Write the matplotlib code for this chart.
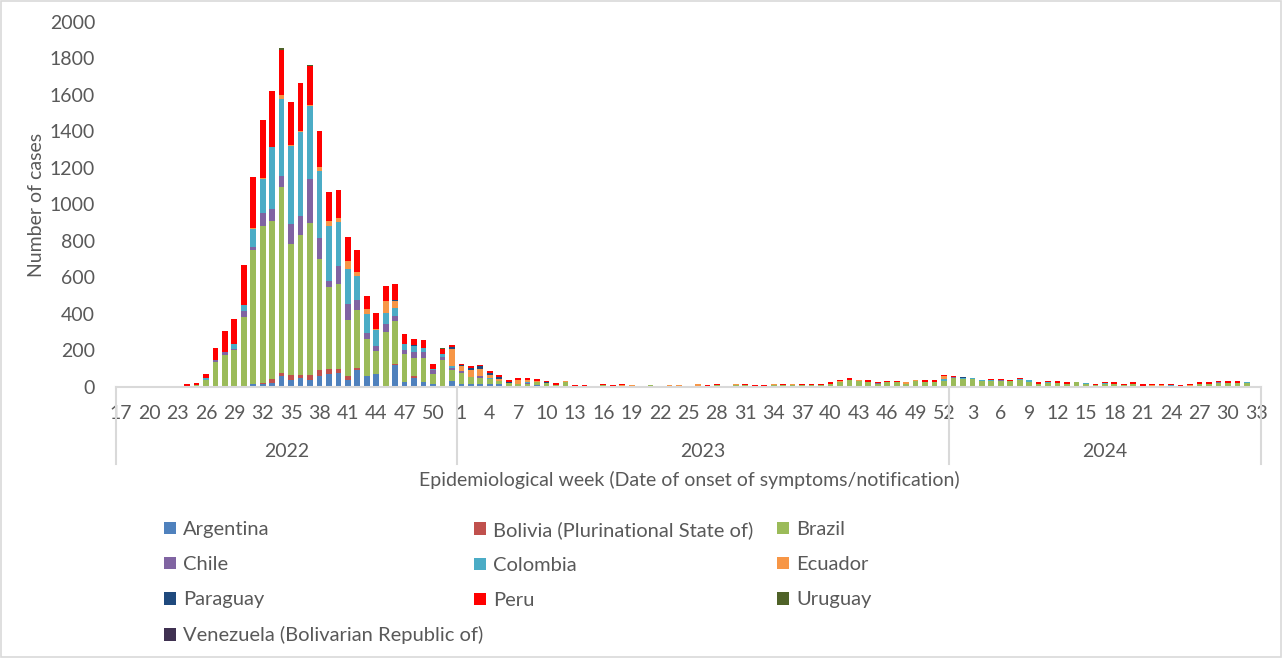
import numpy as np
import matplotlib.pyplot as plt
from matplotlib.patches import Patch, Rectangle

plt.rcParams['font.family'] = ['Lato', 'DejaVu Sans']

# epidemiological weeks: 2022 wk17-52, 2023 wk1-52, 2024 wk1-33
weeks_2022 = list(range(17, 53))
weeks_2023 = list(range(1, 53))
weeks_2024 = list(range(1, 34))
weeks = weeks_2022 + weeks_2023 + weeks_2024
years = ['2022', '2023', '2024']

# cases per week, one line per year
argentina = [
    0, 0, 0, 0, 0, 0, 0, 0, 0, 0, 0, 5, 0, 0, 11, 15, 20, 57, 33, 47, 38, 57, 66, 75, 38, 89, 55, 66, 0, 117, 27, 44, 27, 13, 0, 29,
    11, 16, 13, 13, 13, 0, 0, 5, 7, 0, 0, 0, 0, 0, 0, 0, 0, 0, 0, 0, 5, 0, 0, 0, 0, 0, 0, 0, 0, 0, 0, 0, 0, 0, 0, 0, 0, 0, 0, 0, 0, 0, 0, 0, 0, 0, 0, 0, 0, 0, 0, 0,
    0, 0, 0, 0, 0, 0, 0, 0, 0, 0, 0, 0, 0, 0, 0, 0, 0, 0, 0, 0, 0, 0, 0, 0, 0, 0, 0, 0, 0, 0, 0, 0, 0,
]
bolivia = [
    0, 0, 0, 0, 0, 0, 0, 0, 0, 0, 0, 0, 0, 0, 0, 5, 22, 15, 29, 15, 24, 33, 31, 22, 18, 11, 5, 5, 0, 5, 0, 11, 0, 0, 0, 0,
    0, 0, 0, 0, 0, 0, 0, 0, 0, 0, 0, 5, 0, 0, 0, 0, 0, 0, 0, 0, 0, 0, 0, 0, 0, 0, 0, 0, 0, 0, 0, 0, 0, 0, 0, 0, 0, 0, 0, 0, 0, 0, 0, 0, 0, 0, 0, 0, 0, 0, 0, 0,
    0, 0, 0, 0, 0, 0, 0, 0, 0, 0, 0, 0, 0, 0, 0, 0, 0, 0, 0, 0, 0, 0, 0, 0, 0, 0, 0, 0, 0, 0, 0, 0, 0,
]
brazil = [
    0, 0, 0, 0, 0, 0, 0, 0, 8, 38, 133, 170, 203, 382, 736, 858, 864, 1021, 720, 769, 834, 610, 447, 467, 309, 321, 200, 126, 297, 235, 152, 100, 132, 56, 148, 62,
    62, 35, 33, 27, 15, 18, 15, 10, 15, 18, 9, 18, 0, 0, 0, 9, 0, 4, 0, 0, 4, 0, 0, 0, 0, 0, 0, 10, 4, 9, 9, 0, 0, 9, 9, 9, 10, 10, 10, 13, 27, 33, 30, 27, 16, 27, 22, 15, 30, 25, 27, 28,
    47, 41, 41, 30, 31, 30, 29, 35, 26, 15, 18, 17, 13, 22, 13, 9, 13, 13, 9, 13, 0, 0, 5, 0, 0, 0, 13, 13, 18, 20, 20, 17, 0,
]
chile = [
    0, 0, 0, 0, 0, 0, 0, 0, 0, 0, 15, 13, 5, 31, 16, 73, 68, 62, 111, 106, 241, 113, 37, 95, 88, 55, 36, 27, 46, 32, 20, 37, 29, 20, 14, 8,
    13, 0, 11, 0, 0, 0, 0, 5, 0, 0, 0, 0, 0, 0, 0, 0, 0, 0, 0, 0, 0, 0, 0, 0, 0, 0, 0, 0, 0, 0, 0, 0, 0, 0, 0, 0, 0, 0, 0, 0, 0, 5, 0, 0, 5, 0, 0, 0, 0, 0, 0, 0,
    7, 0, 0, 0, 0, 5, 0, 0, 0, 0, 0, 0, 0, 0, 0, 0, 0, 0, 0, 0, 0, 0, 0, 0, 0, 0, 0, 0, 4, 0, 0, 0, 0,
]
colombia = [
    0, 0, 0, 0, 0, 0, 0, 0, 0, 9, 0, 0, 27, 33, 102, 188, 340, 422, 424, 458, 400, 367, 301, 241, 194, 133, 100, 88, 63, 43, 35, 28, 24, 7, 17, 12,
    0, 0, 0, 5, 0, 0, 0, 5, 0, 0, 0, 0, 0, 0, 0, 0, 0, 0, 4, 0, 0, 0, 0, 0, 0, 0, 0, 0, 0, 0, 0, 4, 0, 0, 0, 0, 0, 0, 0, 0, 0, 0, 0, 0, 0, 0, 0, 0, 0, 0, 0, 14,
    0, 3, 3, 5, 6, 0, 0, 5, 7, 0, 5, 0, 0, 3, 7, 0, 5, 0, 0, 0, 0, 0, 0, 7, 0, 0, 0, 0, 0, 0, 0, 7, 0,
]
ecuador = [
    0, 0, 0, 0, 0, 0, 0, 0, 0, 0, 0, 0, 0, 0, 4, 7, 0, 24, 9, 7, 7, 24, 26, 24, 40, 22, 27, 4, 65, 37, 0, 0, 0, 0, 0, 95,
    24, 37, 38, 18, 13, 0, 18, 10, 10, 0, 0, 6, 0, 0, 4, 0, 0, 6, 5, 4, 0, 0, 9, 9, 4, 13, 0, 0, 0, 4, 0, 0, 0, 6, 0, 6, 0, 0, 0, 0, 5, 0, 6, 0, 0, 0, 0, 12, 4, 0, 0, 15,
    0, 0, 0, 0, 0, 0, 0, 0, 0, 0, 0, 0, 0, 0, 0, 0, 0, 0, 0, 0, 0, 7, 5, 0, 0, 7, 0, 0, 0, 0, 0, 0, 0,
]
paraguay = [
    0, 0, 0, 0, 0, 0, 0, 3, 0, 0, 0, 0, 0, 0, 0, 0, 0, 0, 0, 0, 0, 0, 0, 0, 0, 0, 0, 0, 0, 7, 0, 7, 0, 0, 0, 9,
    9, 15, 15, 13, 9, 7, 5, 0, 0, 5, 0, 0, 0, 0, 0, 0, 0, 0, 0, 0, 0, 0, 0, 0, 0, 0, 0, 0, 0, 0, 0, 0, 0, 0, 0, 0, 0, 0, 0, 0, 0, 0, 0, 0, 0, 0, 0, 0, 0, 0, 0, 0,
    0, 6, 5, 0, 0, 0, 0, 0, 5, 0, 0, 0, 0, 0, 0, 0, 0, 0, 0, 0, 0, 0, 0, 0, 0, 0, 0, 0, 0, 0, 0, 0, 0,
]
peru = [
    0, 0, 0, 0, 0, 0, 0, 8, 10, 24, 64, 115, 135, 223, 281, 316, 310, 247, 237, 261, 215, 200, 159, 152, 131, 119, 72, 88, 82, 88, 53, 36, 43, 26, 27, 15,
    5, 8, 9, 9, 15, 11, 9, 11, 10, 6, 11, 0, 9, 9, 0, 6, 9, 5, 0, 0, 0, 0, 0, 0, 0, 0, 9, 6, 0, 0, 7, 5, 9, 0, 7, 0, 6, 6, 6, 9, 6, 6, 0, 9, 4, 4, 9, 0, 0, 9, 6, 8,
    6, 0, 0, 0, 6, 6, 5, 5, 0, 9, 5, 12, 12, 0, 0, 7, 7, 9, 7, 9, 11, 9, 6, 9, 9, 9, 9, 9, 6, 9, 8, 0, 0,
]
uruguay = [
    0, 0, 0, 0, 0, 0, 0, 0, 0, 0, 0, 0, 0, 0, 0, 0, 0, 9, 0, 0, 4, 0, 0, 3, 5, 0, 4, 0, 0, 0, 0, 0, 0, 0, 7, 0,
    0, 0, 0, 0, 0, 0, 0, 0, 0, 0, 0, 0, 0, 0, 0, 0, 0, 0, 0, 0, 0, 0, 0, 0, 0, 0, 0, 0, 0, 0, 0, 0, 0, 0, 0, 0, 0, 0, 0, 0, 0, 0, 0, 0, 0, 0, 0, 0, 0, 0, 0, 0,
    0, 0, 0, 0, 0, 0, 0, 0, 0, 0, 0, 0, 0, 0, 0, 0, 0, 0, 0, 0, 0, 0, 0, 0, 0, 0, 0, 0, 0, 0, 0, 0, 0,
]
venezuela = [
    0, 0, 0, 0, 0, 0, 0, 0, 0, 0, 0, 0, 0, 0, 0, 0, 0, 0, 0, 0, 0, 0, 0, 0, 0, 0, 0, 0, 0, 0, 0, 0, 0, 0, 0, 0,
    0, 0, 0, 0, 0, 0, 0, 0, 0, 0, 0, 0, 0, 0, 0, 0, 0, 0, 0, 0, 0, 0, 0, 0, 0, 0, 0, 0, 0, 0, 0, 0, 0, 0, 0, 0, 0, 0, 0, 0, 0, 0, 0, 0, 0, 0, 0, 0, 0, 0, 0, 0,
    0, 0, 0, 0, 0, 0, 0, 0, 0, 0, 0, 0, 0, 0, 0, 0, 0, 0, 0, 0, 0, 0, 0, 0, 0, 0, 0, 0, 0, 0, 0, 0, 0,
]

countries = ['Argentina', 'Bolivia (Plurinational State of)', 'Brazil', 'Chile', 'Colombia',
             'Ecuador', 'Paraguay', 'Peru', 'Uruguay', 'Venezuela (Bolivarian Republic of)']
series = [argentina, bolivia, brazil, chile, colombia, ecuador, paraguay, peru, uruguay, venezuela]
colors = ['#4F81BD', '#C0504D', '#9BBB59', '#8064A2', '#4BACC6',
          '#F79646', '#1F497D', '#FF0000', '#4F6228', '#3F3151']

for s in series:
    assert len(s) == len(weeks), len(s)

grey = '#595959'
light = '#D9D9D9'
fs = 14

fig = plt.figure(figsize=(12.82, 6.58), dpi=100)
ax = fig.add_axes([116/1282, 1-386.5/658, 1145/1282, 364.5/658])

x = np.arange(len(weeks))
bottom = np.zeros(len(weeks))
for name, vals, col in zip(countries, series, colors):
    ax.bar(x, vals, 0.6, bottom=bottom, color=col, label=name)
    bottom += np.array(vals)

ax.set_xlim(-0.5, len(weeks) - 0.5)
ax.set_ylim(0, 2000)
ax.set_yticks(range(0, 2001, 200))
ax.set_xticks(x[::3])
ax.set_xticklabels([str(w) for w in weeks[::3]])
ax.tick_params(axis='both', length=0, colors=grey, labelsize=fs)
ax.tick_params(axis='y', pad=15)
ax.tick_params(axis='x', pad=13)
for sp in ['top', 'right', 'left']:
    ax.spines[sp].set_visible(False)
ax.spines['bottom'].set_color(light)
ax.spines['bottom'].set_linewidth(1.5)

# year group labels and separators under the axis
trans = ax.get_xaxis_transform()
edges = [-0.5, len(weeks_2022) - 0.5, len(weeks_2022) + len(weeks_2023) - 0.5, len(weeks) - 0.5]
for e in edges:
    ax.plot([e, e], [0, -0.2126], transform=trans, color=light, lw=1.5, clip_on=False)
for i, yr in enumerate(years):
    ax.text((edges[i] + edges[i+1]) / 2, -0.177, yr, transform=trans, ha='center', va='center',
            color=grey, fontsize=fs)

fig.text(689/1282, 1-480/658, 'Epidemiological week (Date of onset of symptoms/notification)',
         ha='center', va='center', color=grey, fontsize=fs)
fig.text(37/1282, 1-205/658, 'Number of cases', rotation=90, ha='center', va='center',
         color=grey, fontsize=fs)

# legend laid out row by row in three fixed columns
handles = [Patch(facecolor=c, edgecolor='none') for c in colors]
cols_idx = [[0, 3, 6, 9], [1, 4, 7], [2, 5, 8]]
col_x = [164, 474, 777]
for cx, idx in zip(col_x, cols_idx):
    fig.legend([handles[i] for i in idx], [countries[i] for i in idx],
               loc='upper left', bbox_to_anchor=(cx/1282, 1-521/658), frameon=False,
               borderpad=0, borderaxespad=0, handlelength=0.6, handleheight=0.6,
               handletextpad=0.35, labelspacing=0.9, fontsize=14.5, labelcolor=grey)

fig.patches.append(Rectangle((0.0008, 0.0012), 0.9984, 0.9976, transform=fig.transFigure,
                             fill=False, edgecolor=light, lw=1.2))

plt.savefig('out.png', dpi=100)
